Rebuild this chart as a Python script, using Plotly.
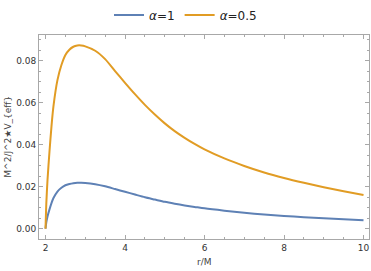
import plotly.graph_objects as go

r_blue = [2.0, 2.02, 2.05, 2.1, 2.15, 2.2, 2.3, 2.4, 2.5, 2.6, 2.7, 2.8, 2.9, 3.0, 3.25, 3.5,
          3.75, 4.0, 4.25, 4.5, 4.75, 5.0, 5.25, 5.5, 5.75, 6.0, 6.5, 7.0, 7.5, 8.0, 8.5, 9.0,
          9.5, 10.0]
v_blue = [0.0, 0.0030, 0.0058, 0.0092, 0.0122, 0.0146, 0.0177, 0.0195, 0.0207, 0.0213, 0.0217,
          0.0219, 0.0219, 0.0218, 0.0212, 0.0202, 0.0189, 0.0176, 0.0163, 0.0150, 0.0139,
          0.0128, 0.0119, 0.0111, 0.0104, 0.0097, 0.0086, 0.0076, 0.0068, 0.0061, 0.0055,
          0.0050, 0.0045, 0.0040]

r_orange = [2.0, 2.02, 2.05, 2.1, 2.15, 2.2, 2.3, 2.4, 2.5, 2.6, 2.7, 2.8, 2.9, 3.0, 3.25, 3.5,
            3.75, 4.0, 4.25, 4.5, 4.75, 5.0, 5.25, 5.5, 5.75, 6.0, 6.5, 7.0, 7.5, 8.0, 8.5, 9.0,
            9.5, 10.0]
v_orange = [0.0, 0.0120, 0.0232, 0.0368, 0.0488, 0.0584, 0.0708, 0.0780, 0.0828, 0.0853, 0.0867,
            0.0873, 0.0873, 0.0869, 0.0848, 0.0808, 0.0751, 0.0695, 0.0641, 0.0590, 0.0544,
            0.0502, 0.0465, 0.0433, 0.0404, 0.0378, 0.0335, 0.0299, 0.0268, 0.0242, 0.0219,
            0.0198, 0.0179, 0.0161]

names = ["<i>α</i>=1", "<i>α</i>=0.5"]
colors = ["#5E81B5", "#E19C24"]

x_ticks = [2, 4, 6, 8, 10]
y_ticks = [0.00, 0.02, 0.04, 0.06, 0.08]
y_ticktext = ["0.00", "0.02", "0.04", "0.06", "0.08"]
x_title = "r/M"
y_title = "M^2/J^2★V_{eff}"

fig = go.Figure()
for rr, vv, nm, col in [(r_blue, v_blue, names[0], colors[0]),
                        (r_orange, v_orange, names[1], colors[1])]:
    fig.add_trace(go.Scatter(x=rr, y=vv, mode="lines", name=nm,
                             line=dict(color=col, width=2, shape="spline", smoothing=0.7)))

axis_common = dict(
    showgrid=False, zeroline=False, showline=True, linecolor="#A8A8A8", linewidth=1,
    mirror="allticks", ticks="inside", ticklen=4, tickcolor="#A8A8A8", tickwidth=1,
    tickfont=dict(family="DejaVu Sans", size=9, color="#333333"), automargin=False,
)

fig.update_layout(
    width=371, height=271,
    margin=dict(l=39, r=2, t=35, b=32),
    paper_bgcolor="white", plot_bgcolor="white",
    showlegend=True,
    legend=dict(orientation="h", x=0.5, xanchor="center", xref="container",
                y=1 - 15 / 271, yanchor="middle", yref="container",
                font=dict(family="DejaVu Sans", size=12, color="#222222"),
                itemwidth=30, bgcolor="rgba(0,0,0,0)"),
    xaxis=dict(axis_common, range=[1.836, 10.138], tickvals=x_ticks,
               minor=dict(dtick=0.5, tick0=2, ticks="inside", ticklen=2, tickcolor="#A8A8A8")),
    yaxis=dict(axis_common, range=[-0.0049, 0.0923], tickvals=y_ticks, ticktext=y_ticktext,
               minor=dict(dtick=0.005, tick0=0, ticks="inside", ticklen=2, tickcolor="#A8A8A8")),
    annotations=[
        dict(text=x_title, xref="paper", yref="paper", x=0.5, y=-0.115, yanchor="middle",
             showarrow=False, font=dict(family="DejaVu Sans", size=9, color="#444444")),
        dict(text=y_title, xref="paper", yref="paper", x=-0.095, y=0.5, xanchor="center",
             textangle=-90, showarrow=False,
             font=dict(family="DejaVu Sans", size=9, color="#444444")),
    ],
)

fig.write_html("out.html", config={"displayModeBar": False},
               post_script="document.body.style.margin='0px';document.body.style.overflow='hidden';")
